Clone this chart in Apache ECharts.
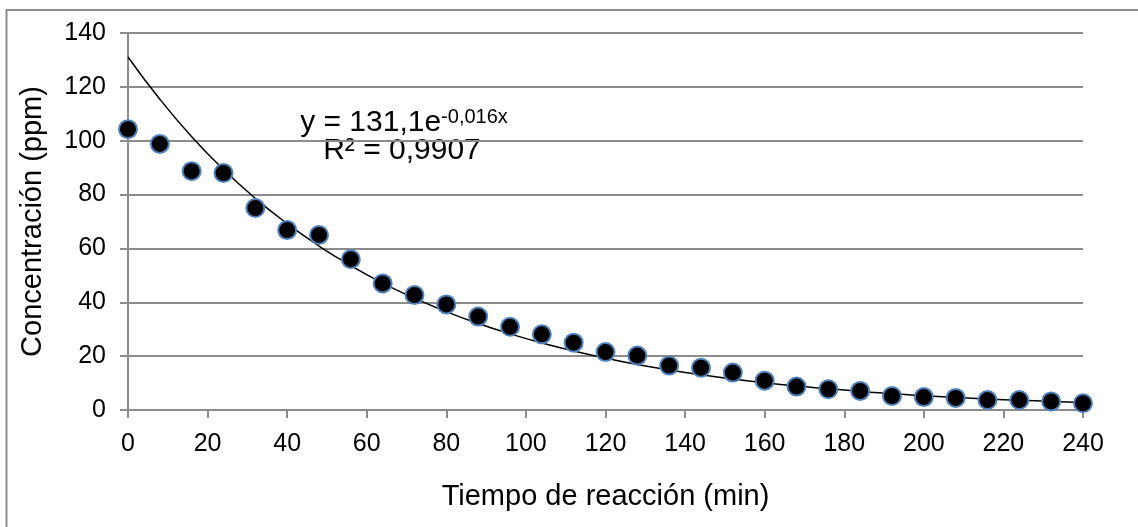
<!DOCTYPE html>
<html>
<head>
<meta charset="utf-8">
<script src="https://cdn.jsdelivr.net/npm/echarts@6/dist/echarts.min.js"></script>
<style>
  html, body { margin: 0; padding: 0; background: #fff; }
  #chart { width: 1138px; height: 527px; }
</style>
</head>
<body>
<div id="chart"></div>
<script>
// reaction time (min) and measured concentration (ppm)
const tiempo = [0, 8, 16, 24, 32, 40, 48, 56, 64, 72, 80, 88, 96, 104, 112, 120,
  128, 136, 144, 152, 160, 168, 176, 184, 192, 200, 208, 216, 224, 232, 240]
const concentracion = [104.3, 98.8, 88.7, 88, 75, 66.8, 65, 56, 47, 42.7, 39.2, 34.7, 30.9, 28.1, 25, 21.5,
  20.2, 16.5, 15.7, 13.9, 10.9, 8.7, 7.7, 7.1, 5.2, 4.8, 4.5, 3.7, 3.7, 3.2, 2.5]
// exponential trend line at the same times
const tendencia = [131.1, 115.4, 101.5, 89.3, 78.6, 69.2, 60.9, 53.6, 47.1, 41.5, 36.5, 32.1, 28.3, 24.9, 21.9, 19.3,
  16.9, 14.9, 13.1, 11.5, 10.1, 8.9, 7.9, 6.9, 6.1, 5.3, 4.7, 4.1, 3.6, 3.2, 2.8]

const font = 'Arial, "Liberation Sans", sans-serif'
const gridGray = '#8c8c8c'

const chart = echarts.init(document.getElementById('chart'))

chart.setOption({
  animation: false,
  backgroundColor: '#fff',
  grid: { left: 128, right: 55, top: 33, bottom: 117, outerBoundsMode: 'none' },
  xAxis: {
    type: 'value',
    min: 0,
    max: 240,
    interval: 20,
    name: 'Tiempo de reacción (min)',
    nameLocation: 'middle',
    nameGap: 72,
    nameTextStyle: { fontFamily: font, fontSize: 29, color: '#000' },
    axisLine: { show: true, lineStyle: { color: gridGray, width: 2 } },
    axisTick: { show: true, length: 8, lineStyle: { color: gridGray, width: 2 } },
    axisLabel: { fontFamily: font, fontSize: 25, color: '#000', margin: 22 },
    splitLine: { show: false },
  },
  yAxis: {
    type: 'value',
    min: 0,
    max: 140,
    interval: 20,
    name: 'Concentración (ppm)',
    nameLocation: 'middle',
    nameGap: 81,
    nameTextStyle: { fontFamily: font, fontSize: 29, color: '#000' },
    axisLine: { show: true, lineStyle: { color: gridGray, width: 2 } },
    axisTick: { show: true, length: 8, lineStyle: { color: gridGray, width: 2 } },
    axisLabel: { fontFamily: font, fontSize: 25, color: '#000', margin: 22 },
    splitLine: { show: true, lineStyle: { color: gridGray, width: 2 } },
  },
  graphic: [
    {
      type: 'rect',
      silent: true,
      shape: { x: 6.5, y: 10, width: 1400, height: 800 },
      style: { fill: 'none', stroke: gridGray, lineWidth: 2 },
    },
    {
      type: 'text',
      style: {
        x: 404,
        y: 123,
        align: 'center',
        verticalAlign: 'middle',
        text: '{m|y = 131,1e}{s|-0,016x}',
        rich: {
          m: { fontFamily: font, fontSize: 30, fill: '#000', lineHeight: 32 },
          s: { fontFamily: font, fontSize: 20, fill: '#000', verticalAlign: 'top', lineHeight: 32, padding: [0, 0, 12, 0] },
        },
      },
    },
    {
      type: 'text',
      style: {
        x: 402,
        y: 151,
        align: 'center',
        verticalAlign: 'middle',
        text: 'R² = 0,9907',
        fontFamily: font,
        fontSize: 30,
        fill: '#000',
      },
    },
  ],
  series: [
    {
      name: 'Tendencia',
      type: 'line',
      smooth: true,
      symbol: 'none',
      lineStyle: { color: '#000', width: 1.5 },
      data: tiempo.map((t, i) => [t, tendencia[i]]),
      z: 2,
    },
    {
      name: 'Concentración',
      type: 'scatter',
      symbol: 'circle',
      symbolSize: 18,
      itemStyle: { color: '#000', borderColor: '#4f81bd', borderWidth: 2, opacity: 1 },
      data: tiempo.map((t, i) => [t, concentracion[i]]),
      z: 3,
    },
  ],
})
</script>
</body>
</html>
